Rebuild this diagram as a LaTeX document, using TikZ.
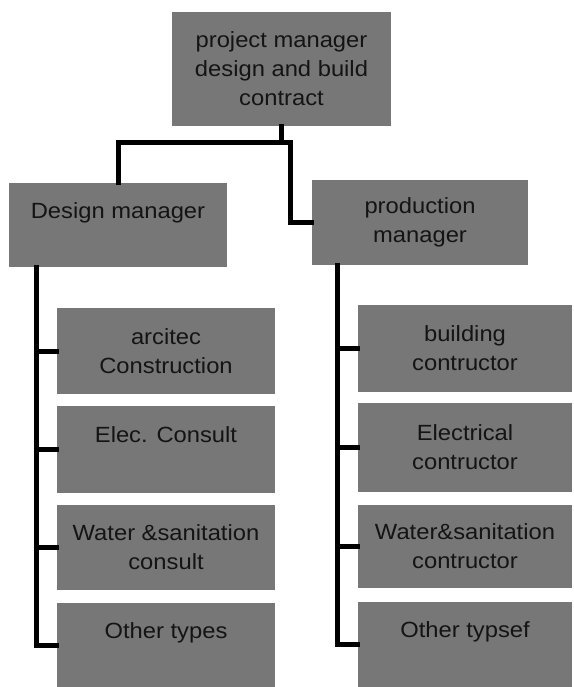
\documentclass[tikz,border=0pt]{standalone}
\usepackage{fontspec}
\setmainfont{Liberation Sans}[FakeStretch=1.08]
\begin{document}
\begin{tikzpicture}[x=1pt,y=-1pt,
  box/.style={fill=boxgray, inner sep=0pt, align=center, text=black!92,
    font=\fontsize{22}{29}\selectfont},
  conn/.style={draw=black, line width=5pt, line cap=rect}]
\definecolor{boxgray}{HTML}{777777}
\useasboundingbox[fill=white] (0,0) rectangle (573,687);
% top
\node[box, minimum width=219pt, minimum height=114pt] (top) at (281.5,69)
  {project manager\\design and build\\contract};
% managers
\node[box, minimum width=218pt, minimum height=84pt] (dm) at (118,225)
  {Design manager\\\phantom{X}};
\node[box, minimum width=216pt, minimum height=85pt] (pm) at (420,222.5)
  {production\\manager};
% left column
\node[box, minimum width=218pt, minimum height=86pt] (a1) at (166,351)
  {arcitec\\Construction};
\node[box, minimum width=218pt, minimum height=87pt] (a2) at (166,449.5)
  {Elec. Consult\\\phantom{X}};
\node[box, minimum width=218pt, minimum height=85pt] (a3) at (166,547.5)
  {Water \&sanitation\\consult};
\node[box, minimum width=218pt, minimum height=84pt] (a4) at (166,645)
  {Other types\\\phantom{X}};
% right column
\node[box, minimum width=214pt, minimum height=87pt] (b1) at (465,348.5)
  {building\\contructor};
\node[box, minimum width=214pt, minimum height=89pt] (b2) at (465,447.5)
  {Electrical\\contructor};
\node[box, minimum width=214pt, minimum height=83pt] (b3) at (465,546.5)
  {Water\&sanitation\\contructor};
\node[box, minimum width=214pt, minimum height=85pt] (b4) at (465,644.5)
  {Other typsef\\\phantom{X}};
% connectors
\coordinate (jm) at (top.south |- 0,143);
\coordinate (jr) at (290,143);
\coordinate (lt) at ([xshift=28pt]dm.south west);
\coordinate (rt) at ([xshift=26pt]pm.south west);
\draw[conn] (top.south) -- (jm);
\draw[conn] (dm.north) |- (jr) |- (pm.west);
\draw[conn] (lt) |- (a1.west);
\draw[conn] (lt) |- (a2.west);
\draw[conn] (lt) |- (a3.west);
\draw[conn] (lt) |- (a4.west);
\draw[conn] (rt) |- (b1.west);
\draw[conn] (rt) |- (b2.west);
\draw[conn] (rt) |- (b3.west);
\draw[conn] (rt) |- (b4.west);
\end{tikzpicture}
\end{document}
